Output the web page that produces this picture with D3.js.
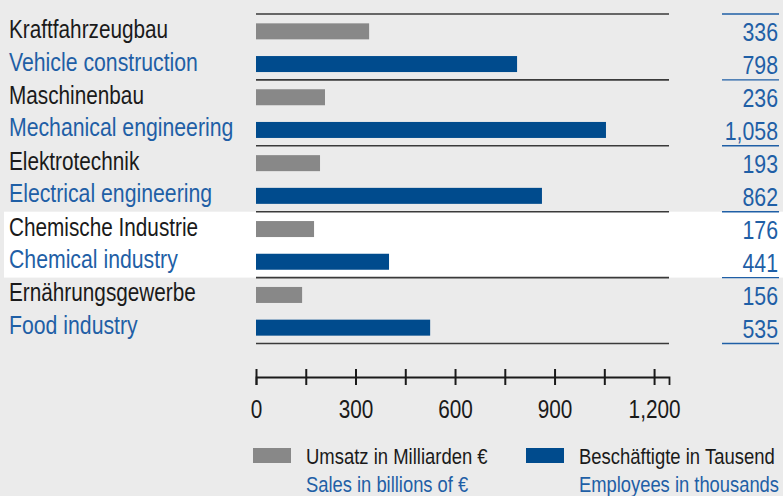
<!DOCTYPE html>
<html>
<head>
<meta charset="utf-8">
<script src="https://cdn.jsdelivr.net/npm/d3@7"></script>
<style>
  html, body { margin: 0; padding: 0; background: #ebebeb; }
  svg { display: block; }
  text { font-family: "Liberation Sans", Arial, sans-serif; }
</style>
</head>
<body>
<svg id="chart" width="783" height="496"></svg>
<script>
// ---- data ----
const categoriesDE = ["Kraftfahrzeugbau", "Maschinenbau", "Elektrotechnik", "Chemische Industrie", "Ernährungsgewerbe"];
const categoriesEN = ["Vehicle construction", "Mechanical engineering", "Electrical engineering", "Chemical industry", "Food industry"];
const sales = [341, 208, 193, 175, 139];          // bar lengths as drawn
const employees = [787, 1055, 862, 401, 525];     // bar lengths as drawn
const salesLabels = ["336", "236", "193", "176", "156"];
const employeeLabels = ["798", "1,058", "862", "441", "535"];
const majorTicks = [0, 300, 600, 900, 1200];
const allTicks = [0, 150, 300, 450, 600, 750, 900, 1050, 1200];
const axisMax = 1245;
const highlighted = "Chemische Industrie";
const seriesKeys = ["sales", "employees"];
const legendDE = ["Umsatz in Milliarden €", "Beschäftigte in Tausend"];
const legendEN = ["Sales in billions of €", "Employees in thousands"];

// ---- styles ----
const grey = "#888888", blue = "#004b8d", textBlue = "#1f5fa6", textDark = "#1a1a1a", lineDark = "#3a3a3a";
const svg = d3.select("#chart");

function ntext(sel, px, py, size, fill, anchor, narrow) {
  return sel.append("text")
    .attr("transform", `translate(${px},${py}) scale(${narrow},1)`)
    .attr("font-size", size).attr("fill", fill).attr("text-anchor", anchor || "start");
}

const x = d3.scaleLinear().domain([0, axisMax]).range([256, 669]);
const y = d3.scaleBand().domain(categoriesDE).range([14, 343.5]).paddingInner(0).paddingOuter(0);
const ySub = d3.scaleBand().domain(seriesKeys).range([1, y.bandwidth() + 0.5]);
const barH = 16;

const rows = categoriesDE.map((c, i) => ({
  de: c, en: categoriesEN[i], sales: sales[i], employees: employees[i],
  salesLabel: salesLabels[i], employeeLabel: employeeLabels[i]
}));

// highlight band
svg.append("rect")
  .attr("x", 4).attr("width", 779)
  .attr("y", y(highlighted)).attr("height", y.bandwidth())
  .attr("fill", "#ffffff");

// separators
const seps = categoriesDE.map(c => y(c)).concat([y.range()[1]]);
svg.append("g").selectAll("line").data(seps).join("line")
  .attr("x1", x(0)).attr("x2", x(axisMax))
  .attr("y1", d => d).attr("y2", d => d)
  .attr("stroke", lineDark).attr("stroke-width", 1.6);
svg.append("g").selectAll("line").data(seps).join("line")
  .attr("x1", 722).attr("x2", 779)
  .attr("y1", d => d).attr("y2", d => d)
  .attr("stroke", textBlue).attr("stroke-width", 1.4);

const g = svg.append("g").selectAll("g").data(rows).join("g")
  .attr("transform", d => `translate(0,${y(d.de)})`);

const cy = k => ySub(k) + ySub.bandwidth() / 2;

// bars
g.append("rect").attr("x", x(0)).attr("y", cy("sales") - barH / 2)
  .attr("width", d => x(d.sales) - x(0)).attr("height", barH).attr("fill", grey);
g.append("rect").attr("x", x(0)).attr("y", cy("employees") - barH / 2)
  .attr("width", d => x(d.employees) - x(0)).attr("height", barH).attr("fill", blue);

// labels
ntext(g, 9, cy("sales") + 6.5, 25, textDark, "start", 0.83).text(d => d.de);
ntext(g, 9, cy("employees") + 6.5, 25, textBlue, "start", 0.85).text(d => d.en);

// numbers
ntext(g, 778, cy("sales") + 10, 26, textBlue, "end", 0.82).text(d => d.salesLabel);
ntext(g, 778, cy("employees") + 10, 26, textBlue, "end", 0.82).text(d => d.employeeLabel);

// axis
const axis = d3.axisBottom(x).tickValues(allTicks).tickSizeOuter(0).tickSize(8)
  .tickFormat(d => majorTicks.includes(d) ? d3.format(",")(d) : "");
const ax = svg.append("g").attr("transform", "translate(0,377)").call(axis);
ax.attr("font-family", null).attr("font-size", null);
ax.select(".domain").attr("stroke", textDark).attr("stroke-width", 1.8);
ax.selectAll(".tick line").attr("y1", -8).attr("y2", 8).attr("stroke", textDark).attr("stroke-width", 2);
ax.selectAll(".tick text").attr("y", 0).attr("dy", 0)
  .attr("transform", "translate(0,41) scale(0.83,1)")
  .attr("font-size", 25).attr("fill", textDark);

// legend
const legX = [253, 526];
const lg = svg.append("g").selectAll("g").data(seriesKeys).join("g")
  .attr("transform", (d, i) => `translate(${legX[i]},0)`);
lg.append("rect").attr("x", 0).attr("y", 448).attr("width", 38).attr("height", 15)
  .attr("fill", (d, i) => i === 0 ? grey : blue);
ntext(lg, 53, 463.5, 22, textDark, "start", 0.84).text((d, i) => legendDE[i]);
ntext(lg, 53, 491.5, 22, textBlue, "start", 0.835).text((d, i) => legendEN[i]);
</script>
</body>
</html>
